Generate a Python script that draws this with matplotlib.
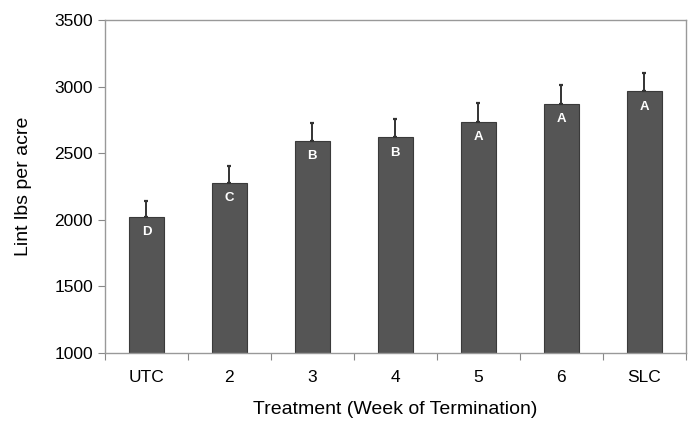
import matplotlib.pyplot as plt
import numpy as np

plt.rcParams['font.family'] = ['Liberation Sans', 'DejaVu Sans']

treatments = ['UTC', '2', '3', '4', '5', '6', 'SLC']
lint = [2020, 2278, 2592, 2619, 2737, 2872, 2964]
err = [120, 125, 132, 135, 142, 140, 136]
letters = ['D', 'C', 'B', 'B', 'A', 'A', 'A']

fig = plt.figure(figsize=(6.9, 4.23), dpi=100)
ax = fig.add_axes([0.152, 0.1655, 0.842, 0.7875])

x = np.arange(len(treatments))
ax.bar(x, lint, width=0.42, color='#555555', edgecolor='#3a3a3a', linewidth=0.8,
       yerr=[np.zeros(len(err)), err], error_kw=dict(ecolor='#333333', elinewidth=1.4,
                                                    capsize=1.5, capthick=1.6))

for xi, v, lab in zip(x, lint, letters):
    ax.text(xi, v - 115, lab, color='white', fontsize=9.5, fontweight='bold',
            ha='center', va='center')

ax.set_xlim(-0.5, len(treatments) - 0.5)
ax.set_ylim(1000, 3500)
ax.set_yticks(np.arange(1000, 3501, 500))

# ticks between categories, labels at centers
ax.set_xticks(np.arange(-0.5, len(treatments), 1.0))
ax.set_xticklabels([])
ax.set_xticks(x, minor=True)
ax.set_xticklabels(treatments, minor=True)
ax.tick_params(axis='x', which='major', length=5, color='#888888')
ax.tick_params(axis='x', which='minor', length=0, pad=12, labelsize=12.5)
ax.tick_params(axis='y', length=5, color='#888888', labelsize=12.5)

for s in ax.spines.values():
    s.set_color('#999999')
    s.set_linewidth(1.0)

ax.set_xlabel('Treatment (Week of Termination)', fontsize=14, labelpad=12)
ax.set_ylabel('Lint lbs per acre', fontsize=14, labelpad=16)

plt.savefig('out.png', dpi=100)
